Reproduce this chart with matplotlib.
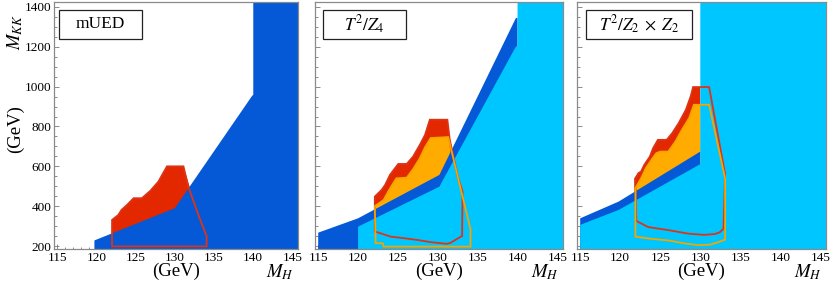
import matplotlib
matplotlib.use("Agg")
import matplotlib.pyplot as plt
from matplotlib.patches import Polygon, Rectangle
from matplotlib.ticker import MultipleLocator

plt.rcParams['font.family'] = ['Liberation Serif', 'DejaVu Serif']
plt.rcParams['mathtext.fontset'] = 'stix'

# ---------------- data (M_H [GeV], M_KK [GeV]) ----------------
panel_titles = ["mUED", r"$T^2/Z_4$", r"$T^2/Z_2\;\times\;Z_2$"]

# Panel 1 : mUED
p1_blue_M = [119.75, 130.0, 139.8, 140.0]
p1_blue_K = [228, 390, 951, 960]
p1_red_M = [121.98, 122.8, 123.2, 123.9, 124.75, 125.8, 126.9, 127.9, 129.0, 131.1, 131.95]
p1_red_K = [331, 356, 381, 406, 440, 440, 478, 523, 600, 600, 490]
p1_redline_M = [122.0, 122.0, 122.8, 123.2, 123.9, 124.75, 125.8, 126.9, 127.9, 129.0, 131.1,
                131.7, 133.2, 134.05, 134.05]
p1_redline_K = [198, 331, 356, 381, 406, 440, 440, 478, 523, 600, 600,
                500, 335, 250, 198]

# Panel 2 : T^2/Z_4
p2_dark_M = [115.0, 120.0, 130.2, 139.8, 140.0]
p2_dark_K = [267, 339, 557, 1345, 1345]
p2_light_M = [120.0, 130.2, 139.8, 140.0]
p2_light_K = [297, 498, 1202, 1202]
p2_red_M = [122.1, 122.96, 123.4, 124.0, 125.04, 126.1, 126.9, 127.75, 128.4, 129.0, 131.2, 131.5, 131.8]
p2_red_K = [448, 482, 507, 557, 612, 612, 649, 708, 758, 834, 834, 742, 690]
p2_orange_M = [122.1, 123.2, 123.9, 124.8, 126.1, 126.9, 127.75, 128.4, 129.1, 131.3, 131.6]
p2_orange_K = [400, 431, 482, 540, 543, 586, 641, 696, 742, 747, 669]
p2_redline_M = [122.1, 122.1, 122.5, 124.1, 126.0, 127.5, 129.2, 131.1, 131.6, 132.5, 133.05,
                133.1, 132.5, 131.5, 131.2, 129.0, 128.4, 127.75, 126.9, 126.1, 125.04,
                124.0, 123.4, 122.96]
p2_redline_K = [448, 272, 268, 247, 238, 230, 219, 211, 216, 238, 250,
                473, 549, 733, 834, 834, 758, 708, 649, 612, 612,
                557, 507, 482]
p2_orangeline_M = [122.1, 122.2, 123.1, 123.2, 134.1, 134.1, 131.3, 129.1, 128.4, 127.75,
                   126.9, 126.1, 124.8, 123.9, 123.2]
p2_orangeline_K = [400, 214, 214, 197, 197, 284, 747, 742, 696, 641,
                   586, 543, 540, 482, 431]

# Panel 3 : T^2/Z_2 x Z_2
p3_dark_M = [115.0, 119.8, 130.0]
p3_dark_K = [339, 423, 674]
p3_light_M = [115.0, 119.8, 130.0]
p3_light_K = [306, 381, 611]
p3_red_M = [121.75, 122.27, 122.6, 123.0, 123.7, 124.1, 124.7, 125.8, 126.5, 127.3, 128.2, 128.8, 129.1, 130.0]
p3_red_K = [540, 566, 574, 607, 649, 691, 733, 733, 767, 817, 884, 951, 998, 998]
p3_orange_M = [121.75, 122.6, 123.2, 123.9, 124.5, 125.0, 126.0, 126.9, 127.7, 128.6, 129.2, 130.0]
p3_orange_K = [490, 540, 591, 633, 666, 674, 674, 725, 783, 842, 909, 913]
p3_redline_M = [121.9, 122.0, 123.5, 126.0, 128.5, 130.5, 131.8, 132.4, 132.9, 133.1, 131.1,
                129.1, 128.8, 128.2, 127.3, 126.5, 125.8, 124.7, 124.1, 123.7, 123.0, 122.6, 122.27]
p3_redline_K = [540, 326, 295, 280, 262, 256, 260, 268, 287, 560, 998,
                998, 951, 884, 817, 767, 733, 733, 691, 649, 607, 574, 566]
p3_orangeline_M = [121.9, 121.9, 123.9, 126.0, 128.2, 129.9, 131.2, 132.1, 133.1, 133.1, 131.1,
                   129.2, 128.6, 127.7, 126.9, 126.0, 125.0, 124.5, 123.9, 123.2, 122.6]
p3_orangeline_K = [490, 247, 236, 228, 212, 204, 207, 217, 232, 540, 909,
                   909, 842, 783, 725, 674, 674, 666, 633, 591, 540]

XLIM = (114.6, 145.7)
YLIM = (185, 1425)

DARK = '#0559d6'
LIGHT = '#00c6ff'
RED = '#e32800'
ORANGE = '#ffab00'
REDLINE = '#dc3418'
ORANGELINE = '#f5a400'


def region_below(ax, M, K, color, z):
    y0 = ax.get_ylim()[0]
    pts = [(M[0], y0)] + list(zip(M, K)) + [(M[-1], y0)]
    ax.add_patch(Polygon(pts, closed=True, facecolor=color, edgecolor='none', zorder=z))


def region_right(ax, M, K, color, z):
    x0, x1 = ax.get_xlim()
    y0, y1 = ax.get_ylim()
    pts = [(M[0], y0)] + list(zip(M, K)) + [(M[-1], y1), (x1, y1), (x1, y0)]
    ax.add_patch(Polygon(pts, closed=True, facecolor=color, edgecolor='none', zorder=z))


def outline(ax, M, K, color, z):
    ax.add_patch(Polygon(list(zip(M, K)), closed=True, facecolor='none',
                         edgecolor=color, linewidth=1.3, joinstyle='miter', zorder=z))


fig = plt.figure(figsize=(8.3, 2.83), dpi=100)
W, H = 830.0, 283.0
lefts = [54, 315, 577]
widths = [244, 248, 249]
axes = []
for i in range(3):
    ax = fig.add_axes([lefts[i] / W, 34 / H, widths[i] / W, 247 / H])
    ax.set_xlim(*XLIM)
    ax.set_ylim(*YLIM)
    axes.append(ax)

ax1, ax2, ax3 = axes

# panel 1
region_below(ax1, p1_red_M, p1_red_K, RED, 1)
region_right(ax1, p1_blue_M, p1_blue_K, DARK, 3)
outline(ax1, p1_redline_M, p1_redline_K, REDLINE, 5)

# panel 2
region_below(ax2, p2_red_M, p2_red_K, RED, 1)
region_below(ax2, p2_orange_M, p2_orange_K, ORANGE, 2)
region_below(ax2, p2_dark_M, p2_dark_K, DARK, 3)
region_right(ax2, p2_light_M, p2_light_K, LIGHT, 4)
outline(ax2, p2_redline_M, p2_redline_K, REDLINE, 5)
outline(ax2, p2_orangeline_M, p2_orangeline_K, ORANGELINE, 6)

# panel 3
region_below(ax3, p3_red_M, p3_red_K, RED, 1)
region_below(ax3, p3_orange_M, p3_orange_K, ORANGE, 2)
region_below(ax3, p3_dark_M, p3_dark_K, DARK, 3)
region_right(ax3, p3_light_M, p3_light_K, LIGHT, 4)
outline(ax3, p3_redline_M, p3_redline_K, REDLINE, 5)
outline(ax3, p3_orangeline_M, p3_orangeline_K, ORANGELINE, 6)

box_x = [(0.021, 0.361), (0.032, 0.367), (0.036, 0.460)]
for i, ax in enumerate(axes):
    for s in ax.spines.values():
        s.set_color('#8a8a8a')
        s.set_linewidth(0.9)
        s.set_zorder(10)
    ax.xaxis.set_major_locator(MultipleLocator(5))
    ax.xaxis.set_minor_locator(MultipleLocator(1))
    ax.yaxis.set_major_locator(MultipleLocator(200))
    ax.yaxis.set_minor_locator(MultipleLocator(50))
    ax.tick_params(which='both', direction='in', top=False, right=False,
                   color='#777777', width=0.6, labelsize=9.5, pad=2)
    ax.tick_params(which='major', length=3.5)
    ax.tick_params(which='minor', length=1.8)
    if i > 0:
        ax.tick_params(labelleft=False)
    x0, x1 = box_x[i]
    ax.add_patch(Rectangle((x0, 0.850), x1 - x0, 0.118, transform=ax.transAxes,
                           facecolor='white', edgecolor='#222222', linewidth=0.9, zorder=20))
    ax.text((x0 + x1) / 2, 0.909, panel_titles[i], transform=ax.transAxes,
            ha='center', va='center', fontsize=12.5, zorder=21)
    cx = (lefts[i] + widths[i] / 2) / W
    fig.text(cx, 12 / H, "(GeV)", ha='center', va='center', fontsize=13.5)
    fig.text((lefts[i] + widths[i] - 18) / W, 11 / H, r"$M_H$", ha='center', va='center', fontsize=13.5)

fig.text(15 / W, (H - 32) / H, r"$M_{KK}$", rotation=90, ha='center', va='center', fontsize=13.5)
fig.text(15 / W, (H - 129) / H, "(GeV)", rotation=90, ha='center', va='center', fontsize=13.5)

fig.savefig("out.png", dpi=100)
